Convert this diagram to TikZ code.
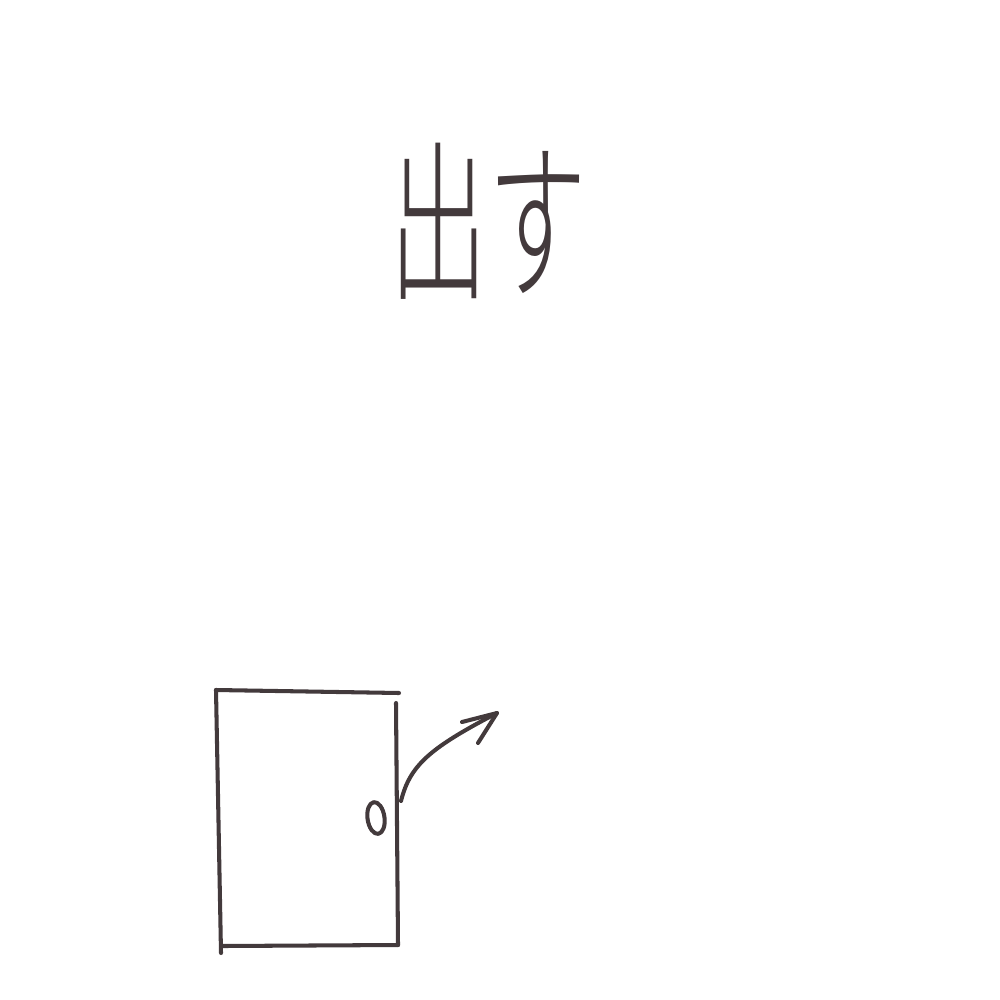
\documentclass[tikz,border=0pt]{standalone}
\usepackage{fontspec}
\newfontfamily\cjk{Noto Sans CJK JP Light}
\usetikzlibrary{arrows.meta}
\definecolor{ink}{HTML}{433A3C}
\tikzset{
  pen/.style={draw=ink, line width=1.15pt, line cap=round, line join=round},
  handtext/.style={text=ink, font=\cjk\fontsize{28}{30}\selectfont, inner sep=0pt}
}
\begin{document}
\begin{tikzpicture}[x=0.01cm, y=-0.01cm]
\useasboundingbox[fill=white] (0,0) rectangle (1000,1000);
% title
\node[handtext] (title) at (488,221) {\scalebox{1}[1.75]{出す}};
% door
\coordinate (tl) at (216,690);
\coordinate (tr) at (399,693);
\coordinate (rt) at (396,703);
\coordinate (rb) at (398,945);
\coordinate (bl) at (222,946);
\coordinate (lb) at (221,953);
\draw[pen] (tl) -- (tr);
\draw[pen] (tl) -- (lb);
\draw[pen] (rt) -- (rb);
\draw[pen] (bl) -- (rb);
% handle
\draw[pen, rotate around={8:(376,818)}] (376,818) ellipse [x radius=8.5, y radius=16];
% arrow
\coordinate (as) at (401,801);
\coordinate (ae) at (497,713);
\draw[pen] (as) .. controls (410,765) and (430,748) .. (ae);
\draw[pen] (462,722) -- (ae) -- (478,743);
\end{tikzpicture}
\end{document}
